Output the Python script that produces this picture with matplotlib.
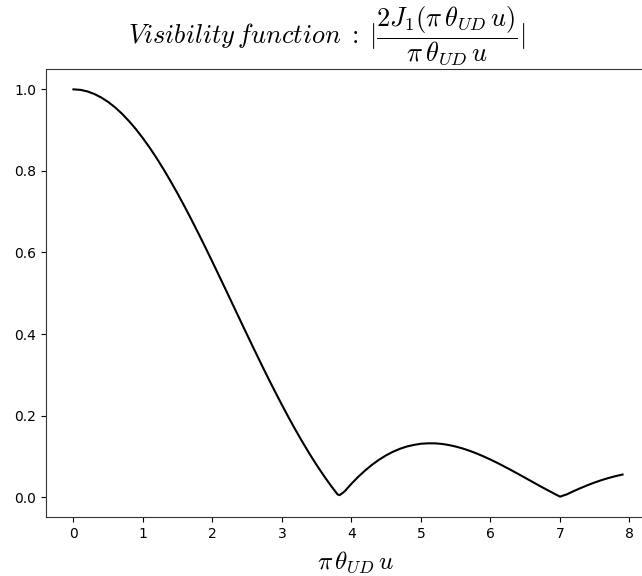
import matplotlib
matplotlib.use("Agg")
import matplotlib.pyplot as plt

plt.rcParams["mathtext.fontset"] = "cm"

# Visibility amplitude |2 J1(x) / x| sampled along x = pi * theta_UD * u
x_vals = [0.0, 0.1, 0.2, 0.3, 0.4, 0.5, 0.6, 0.7, 0.8, 0.9, 1.0, 1.1, 1.2,
          1.3, 1.4, 1.5, 1.6, 1.7, 1.8, 1.9, 2.0, 2.1, 2.2, 2.3, 2.4, 2.5,
          2.6, 2.7, 2.8, 2.9, 3.0, 3.1, 3.2, 3.3, 3.4, 3.5, 3.6, 3.7, 3.8,
          3.83, 3.9, 4.0, 4.1, 4.2, 4.3, 4.4, 4.5, 4.6, 4.7, 4.8, 4.9, 5.0,
          5.1, 5.2, 5.3, 5.4, 5.5, 5.6, 5.7, 5.8, 5.9, 6.0, 6.1, 6.2, 6.3,
          6.4, 6.5, 6.6, 6.7, 6.8, 6.9, 7.0, 7.1, 7.2, 7.3, 7.4, 7.5, 7.6,
          7.7, 7.8, 7.9]
vis_vals = [1.0, 0.9988, 0.995, 0.9887, 0.980, 0.9691, 0.9557, 0.9400,
            0.922, 0.9021, 0.880, 0.8562, 0.8305, 0.8031, 0.7741, 0.7439,
            0.7124, 0.6797, 0.6461, 0.6118, 0.5767, 0.5412, 0.5055, 0.4695,
            0.4335, 0.3977, 0.3622, 0.3271, 0.2926, 0.2589, 0.2261, 0.1941,
            0.1633, 0.1337, 0.1054, 0.0785, 0.0531, 0.0291, 0.0067, 0.005,
            0.0139, 0.0330, 0.0504, 0.0660, 0.0800, 0.0922, 0.1027, 0.1116,
            0.1188, 0.1244, 0.1282, 0.1310, 0.1320, 0.1320, 0.1306, 0.1279,
            0.1241, 0.1194, 0.1137, 0.1072, 0.1000, 0.0922, 0.0839, 0.0751,
            0.0661, 0.0568, 0.0473, 0.0379, 0.0284, 0.0192, 0.0101, 0.0013,
            0.0070, 0.0151, 0.0225, 0.0296, 0.0361, 0.0419, 0.0471, 0.0516,
            0.0555]

W, H = 642, 576
fig = plt.figure(figsize=(W / 100, H / 100), dpi=100)
# axes run past the right edge of the canvas
ax = fig.add_axes([46 / W, 59 / H, 604 / W, 448 / H])
ax.plot(x_vals, vis_vals, color="black", linewidth=1.5)
ax.set_xticks(range(0, 9))
for s in ax.spines.values():
    s.set_color("#333333")
fig.text(327 / W, 1 - 36 / H,
         r"$Visibility\, function\;:\;|\dfrac{2J_1(\pi\,\theta_{UD}\,u)}{\pi\,\theta_{UD}\,u}|$",
         fontsize=19, ha="center", va="center")
ax.set_xlabel(r"$\pi\,\theta_{UD}\,u$", fontsize=18)
ax.xaxis.set_label_coords((355 - 46) / 604, -(575 - 517) / 448)
ax.xaxis.label.set_va("bottom")
fig.savefig("out.png", dpi=100)
